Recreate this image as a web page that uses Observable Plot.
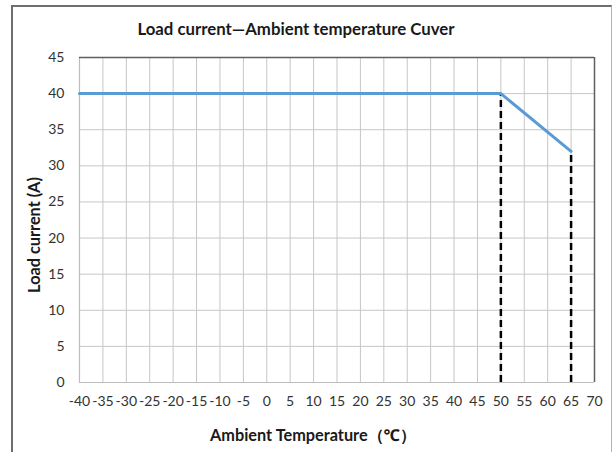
<!DOCTYPE html>
<html>
<head>
<meta charset="utf-8">
<script src="https://cdn.jsdelivr.net/npm/d3@7"></script>
<script src="https://cdn.jsdelivr.net/npm/@observablehq/plot@0.6"></script>
<style>
  html, body { margin: 0; padding: 0; background: #fff; }
  #wrap { position: relative; width: 613px; height: 452px; overflow: hidden; background: #fff; font-family: Lato, "Noto Sans", sans-serif; }
  #wrap svg { position: absolute; left: 0; top: 0; }
  .border { position: absolute; left: 11px; top: 5px; width: 601px; height: 470px; box-sizing: border-box;
            border-top: 2px solid #6e6e6e; border-left: 2px solid #6e6e6e; border-right: 1px solid #b4b4b4; }
  .txt { position: absolute; white-space: nowrap; font-weight: bold; color: #1a1a1a; transform: translate(-50%, -50%); }
  #title { left: 296px; top: 28px; font-size: 16.8px; }
  #xlab { left: 313px; top: 435px; font-size: 16.3px; }
  #ylab { left: 33px; top: 235px; font-size: 16.3px; transform: translate(-50%, -50%) rotate(-90deg); }
</style>
</head>
<body>
<div id="wrap">
  <div class="border"></div>
  <div id="chart"></div>
  <div class="txt" id="title">Load current—Ambient temperature Cuver</div>
  <div class="txt" id="xlab">Ambient Temperature（℃）</div>
  <div class="txt" id="ylab">Load current (A)</div>
</div>
<script>
// Data
const temps = [-40, 50, 65];          // ambient temperature (°C)
const currents = [40, 40, 32];        // load current (A)
const markTemps = [50, 65];           // dashed reference lines
const markCurrents = [40, 32];
const xTicks = [-40,-35,-30,-25,-20,-15,-10,-5,0,5,10,15,20,25,30,35,40,45,50,55,60,65,70];
const yTicks = [0,5,10,15,20,25,30,35,40,45];
const xDomain = [-40, 70];
const yDomain = [0, 45];

const curve = temps.map((t, i) => ({t, i: currents[i]}));
const marks = markTemps.map((t, k) => ({t, i: markCurrents[k]}));
const fmt = d => String(d);

const chart = Plot.plot({
  width: 613,
  height: 452,
  marginLeft: 79,
  marginRight: 19,
  marginTop: 57,
  marginBottom: 70,
  style: {fontFamily: "Lato, 'Noto Sans', sans-serif", fontSize: "14px", color: "#333", background: "transparent"},
  x: {domain: xDomain, ticks: xTicks},
  y: {domain: yDomain, ticks: yTicks},
  marks: [
    Plot.gridX(xTicks, {stroke: "#c6c6c6", strokeOpacity: 1, strokeWidth: 1}),
    Plot.gridY(yTicks, {stroke: "#c6c6c6", strokeOpacity: 1, strokeWidth: 1}),
    Plot.ruleX([xDomain[0]], {stroke: "#bdbdbd", strokeWidth: 1.2}),
    Plot.ruleY([yDomain[0]], {stroke: "#bdbdbd", strokeWidth: 1.2}),
    Plot.ruleX([xDomain[1]], {stroke: "#5f5f5f", strokeWidth: 1.5}),
    Plot.ruleY([yDomain[1]], {stroke: "#5f5f5f", strokeWidth: 1.5}),
    Plot.axisX(xTicks, {tickSize: 0, tickPadding: 14, label: null, fill: "#333", tickFormat: fmt}),
    Plot.axisY(yTicks, {tickSize: 0, tickPadding: 15, label: null, fill: "#333", tickFormat: fmt}),
    Plot.ruleX(marks, {x: "t", y1: 0, y2: "i", stroke: "#000", strokeWidth: 2.5, strokeDasharray: "7,4"}),
    Plot.line(curve, {x: "t", y: "i", stroke: "#5b9bd5", strokeWidth: 3, strokeLinejoin: "round"})
  ]
});
document.getElementById("chart").appendChild(chart);
</script>
</body>
</html>
